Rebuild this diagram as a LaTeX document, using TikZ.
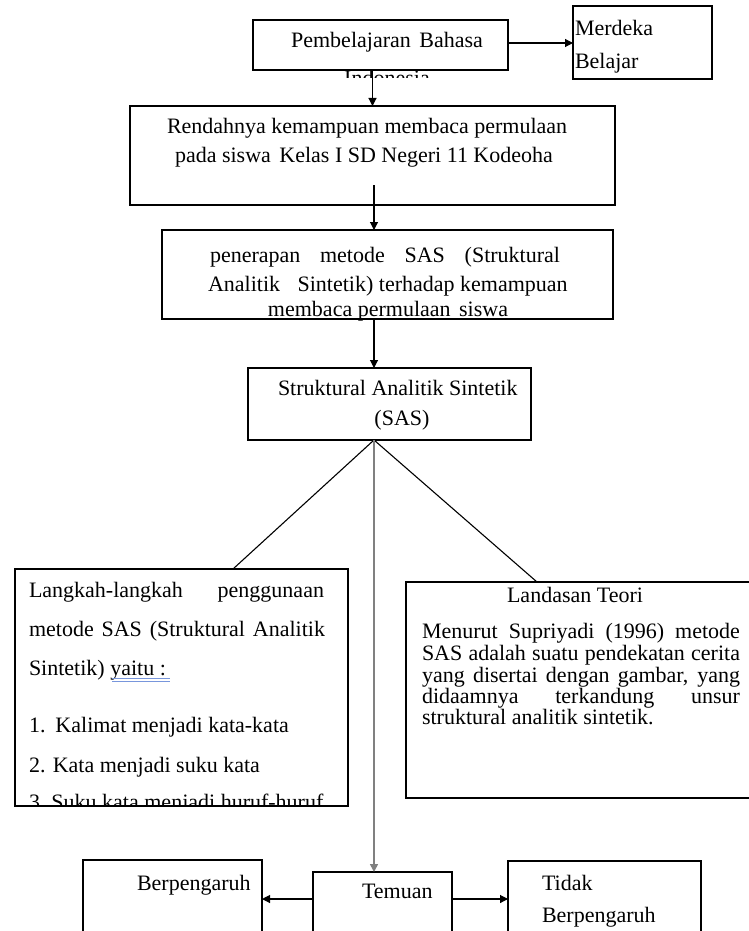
\documentclass[tikz,border=0pt]{standalone}
\usepackage{fontspec}
\setmainfont{Liberation Serif}
\usetikzlibrary{arrows.meta}
\definecolor{midgray}{RGB}{128,128,128}
\definecolor{spellblue}{RGB}{120,150,220}
\begin{document}
\begin{tikzpicture}[x=1pt,y=-1pt,
  box/.style={draw, line width=1.1pt, inner sep=0pt, outer sep=0pt, anchor=north west},
  txt/.style={inner sep=0pt, outer sep=0pt, font=\fontsize{22}{26}\selectfont},
  arr/.style={-{Triangle[length=8pt,width=8pt]}, line width=1.1pt},
  garr/.style={-{Triangle[length=8pt,width=8pt]}, line width=1.6pt, draw=midgray, fill=midgray},
  link/.style={line width=1.1pt}]
\useasboundingbox (0,0) rectangle (749,931);
% boxes
\node[box, minimum width=255pt, minimum height=50pt] (b1) at (253,20) {};
\node[box, minimum width=139pt, minimum height=73pt] (merdeka) at (573,6) {};
\node[box, minimum width=485pt, minimum height=99pt] (b2) at (130,106) {};
\node[box, minimum width=451pt, minimum height=89pt] (b3) at (162,230) {};
\node[box, minimum width=283pt, minimum height=72pt] (b4) at (248,368) {};
\node[box, minimum width=333pt, minimum height=237pt] (left) at (15,569) {};
\node[box, minimum width=360pt, minimum height=216pt] (right) at (406,582) {};
\node[box, minimum width=179pt, minimum height=90pt] (berp) at (83,860) {};
\node[box, minimum width=139pt, minimum height=80pt] (temuan) at (313,872) {};
\node[box, minimum width=193pt, minimum height=90pt] (tidak) at (508,861) {};
% texts
\node[txt, anchor=base] (t1a) at (387,48) {Pembelajaran\hspace{3pt} Bahasa};
\begin{scope}
  \clip (253,20) rectangle (508,78);
  \node[txt, anchor=base] (t1b) at (387,86) {Indonesia};
\end{scope}
\node[txt, anchor=base west] (tm1) at (575,36) {Merdeka};
\node[txt, anchor=base west] (tm2) at (575,69) {Belajar};
\node[txt, anchor=base west] (t2a) at (167,133) {Rendahnya kemampuan membaca permulaan};
\node[txt, anchor=base west] (t2b) at (175,162) {pada siswa\hspace{3pt} Kelas I SD Negeri 11 Kodeoha};
\node[txt, anchor=base west] (t3a) at (210,262) {\makebox[350pt][s]{penerapan metode SAS (Struktural}};
\node[txt, anchor=base west] (t3b) at (208,291) {Analitik\hspace{12pt} Sintetik) terhadap kemampuan};
\node[txt, anchor=base] (t3c) at (388,316) {membaca permulaan\hspace{3pt} siswa};
\node[txt, anchor=base west] (t4a) at (278,395) {Struktural Analitik Sintetik};
\node[txt, anchor=base] (t4b) at (402,425) {(SAS)};
% left box text
\node[txt, anchor=base west] (l1) at (29,597) {\makebox[295pt][s]{Langkah-langkah penggunaan}};
\node[txt, anchor=base west] (l2) at (29,636) {\makebox[296pt][s]{metode SAS (Struktural Analitik}};
\node[txt, anchor=base west] (l3) at (29,675) {Sintetik) yaitu :};
\node[txt, anchor=base west] (l4) at (29,732) {1.\hspace{10pt}Kalimat menjadi kata-kata};
\node[txt, anchor=base west] (l5) at (29,772) {2. Kata menjadi suku kata};
\begin{scope}
  \clip (15,569) rectangle (348,806);
  \node[txt, anchor=base west] (l6) at (29,809) {3.\hspace{6pt}Suku kata menjadi huruf-huruf};
\end{scope}
\draw[spellblue, line width=0.7pt] (112,678.5) -- (170,678.5) (112,681.5) -- (170,681.5);
% right box text
\node[txt, anchor=base] (r0) at (575,602) {Landasan Teori};
\node[txt, anchor=base west] (r1) at (422,638) {\makebox[318pt][s]{Menurut Supriyadi (1996) metode}};
\node[txt, anchor=base west] (r2) at (422,660) {\makebox[318pt][s]{SAS adalah suatu pendekatan cerita}};
\node[txt, anchor=base west] (r3) at (422,682) {\makebox[318pt][s]{yang disertai dengan gambar, yang}};
\node[txt, anchor=base west] (r4) at (422,703) {\makebox[318pt][s]{didaamnya terkandung unsur}};
\node[txt, anchor=base west] (r5) at (422,724) {struktural analitik sintetik.};
% bottom texts
\node[txt, anchor=base west] (tb) at (137,890) {Berpengaruh};
\node[txt, anchor=base west] (tt) at (362,898) {Temuan};
\node[txt, anchor=base west] (td1) at (542,890) {Tidak};
\node[txt, anchor=base west] (td2) at (542,922) {Berpengaruh};
% connectors
\coordinate (axis) at (374,0);
\coordinate (ay1) at (0,43);
\coordinate (ay2) at (0,899);
\coordinate (c23) at (374,185);
\coordinate (lend) at (233,0);
\coordinate (rend) at (537,0);
\draw[arr] (b1.east |- ay1) -- (merdeka.west |- ay1);
\draw[arr] (b1.south -| b2.north) -- (b2.north);
\draw[arr] (c23) -- (c23 |- b3.north);
\draw[arr] (b3.south -| axis) -- (b4.north -| axis);
\draw[link] (b4.south -| axis) -- (left.north -| lend);
\draw[link] (b4.south -| axis) -- (right.north -| rend);
\draw[garr] (b4.south -| axis) -- (temuan.north -| axis);
\draw[arr] (temuan.west |- ay2) -- (berp.east |- ay2);
\draw[arr] (temuan.east |- ay2) -- (tidak.west |- ay2);
\end{tikzpicture}
\end{document}
